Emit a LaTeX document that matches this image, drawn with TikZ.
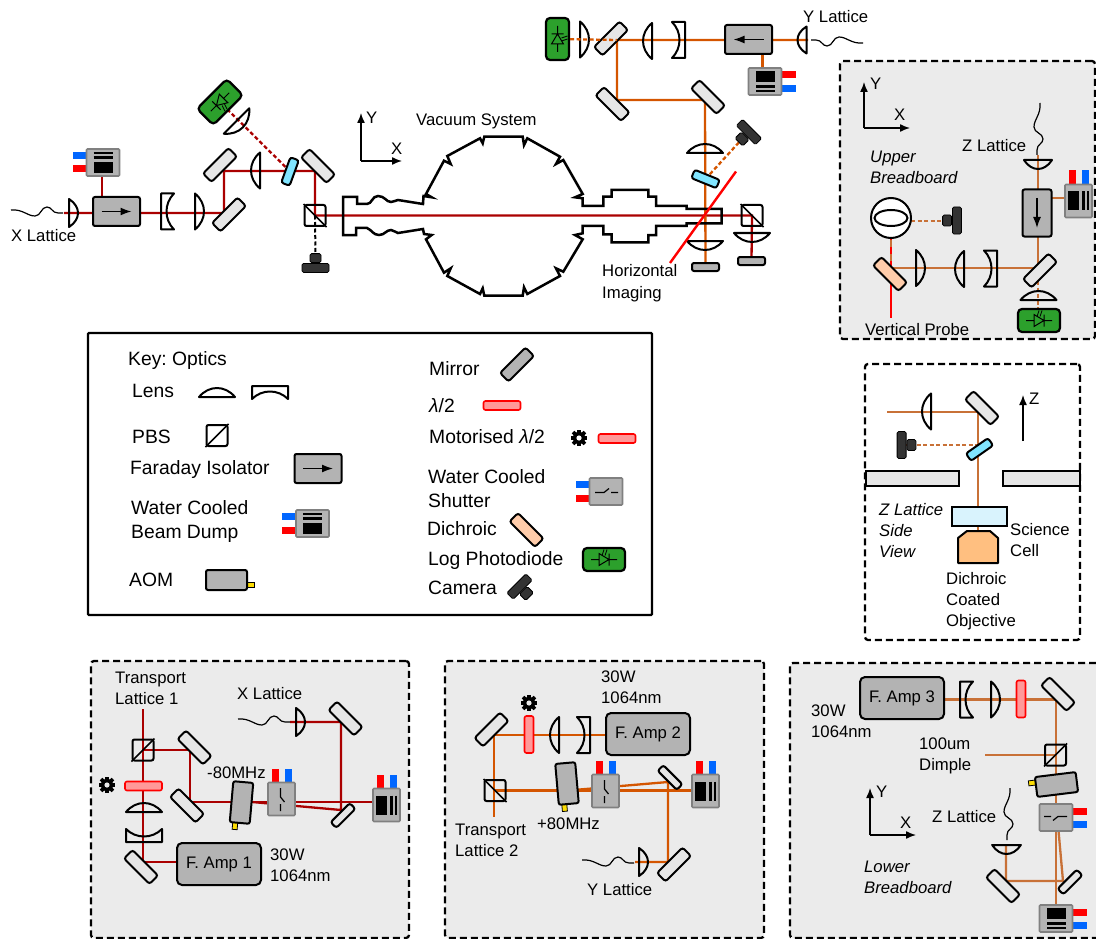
\documentclass[tikz,border=0pt]{standalone}
\usepackage{fontspec}
\setmainfont{Liberation Sans}
\usetikzlibrary{arrows.meta,shapes.geometric}
\frenchspacing

\definecolor{redbeam}{HTML}{AA0000}
\definecolor{orangebeam}{HTML}{D45500}
\definecolor{dimbeam}{HTML}{C87137}
\definecolor{panelgray}{HTML}{EBEBEB}
\definecolor{mirrorgray}{HTML}{E6E6E6}
\definecolor{bodygray}{HTML}{B3B3B3}
\definecolor{edgegray}{HTML}{808080}
\definecolor{tabblue}{HTML}{0066FF}
\definecolor{tabred}{HTML}{FF0000}
\definecolor{pdgreen}{HTML}{2CA02C}
\definecolor{dichblue}{HTML}{80E5FF}
\definecolor{peach}{HTML}{FFCCAA}
\definecolor{darkcam}{HTML}{333333}

\pgfdeclarelayer{panels}
\pgfdeclarelayer{beams}
\pgfsetlayers{panels,beams,main}

\tikzset{
  optic/.style={draw, line width=2pt, line join=round},
  lbl/.style={anchor=west, inner sep=0pt, align=left, text height=13pt, text depth=1pt},
  keylbl/.style={lbl, font=\fontsize{19.3}{24}\selectfont, text height=15pt},
  ital/.style={lbl, font=\fontsize{16.7}{21}\selectfont\itshape},
  panelbox/.style={rectangle, draw, fill=panelgray, line width=2.3pt, dash pattern=on 7pt off 4pt, rounded corners=3pt},
  mirror/.style={rectangle, draw, fill=mirrorgray, line width=2pt, rounded corners=2.5pt, minimum width=36pt, minimum height=12pt, inner sep=0pt},
  smallmirror/.style={mirror, minimum width=27pt, minimum height=8pt},
  dichroic/.style={mirror, fill=dichblue, minimum width=27pt, minimum height=9pt},
  pbs/.style={rectangle, draw, line width=2pt, rounded corners=2pt, minimum size=21pt, inner sep=0pt},
  waveplate/.style={rectangle, draw=tabred, fill=red!40, line width=1.6pt, rounded corners=2pt, minimum width=37pt, minimum height=9pt, inner sep=0pt},
  graybox/.style={rectangle, draw, fill=bodygray, line width=2pt, rounded corners=2pt, inner sep=0pt},
  ampbox/.style={graybox, rounded corners=5pt, minimum width=84pt, minimum height=42pt},
  block/.style={graybox, minimum width=27pt, minimum height=8pt},
  redbm/.style={redbeam, line width=2.3pt},
  orangebm/.style={orangebeam, line width=2.3pt},
  dimbm/.style={dimbeam, line width=2.3pt},
  dashbm/.style={dash pattern=on 4pt off 2.5pt},
  axisline/.style={line width=1.4pt, -{Latex[length=10pt,width=8pt]}},
  pics/convex/.style={code={
    \draw[optic] (-18,0) .. controls (-8,-12) and (8,-12) .. (18,0) -- cycle;
  }},
  pics/concave/.style={code={
    \draw[optic] (-18,-13) .. controls (-8,-3) and (8,-3) .. (18,-13) -- (18,0) -- (-18,0) -- cycle;
  }},
  pics/faraday/.style={code={
    \node (-box) [transform shape, graybox, minimum width=47pt, minimum height=29pt] at (0,0) {};
    \draw[line width=1.5pt, -{Latex[length=11pt,width=8pt]}] (-15,0) -- (15,0);
  }},
  pics/beamdump/.style={code={
    \fill[tabblue] (-30.5,-10.5) rectangle (-16,-3.5);
    \fill[tabred] (-30.5,3) rectangle (-16,10);
    \node (-box) [transform shape, rectangle, draw=edgegray, fill=bodygray, line width=1.6pt, rounded corners=1pt, minimum width=33pt, minimum height=27pt, inner sep=0pt] at (0,0) {};
    \fill (-9.5,-.5) rectangle (9.5,10.5);
    \draw[line width=2.2pt] (-9.5,-9.5) -- (9.5,-9.5) (-9.5,-5) -- (9.5,-5);
  }},
  pics/shutter/.style={code={
    \fill[tabblue] (-30.5,-10.5) rectangle (-16,-3.5);
    \fill[tabred] (-30.5,3) rectangle (-16,10);
    \node (-box) [transform shape, rectangle, draw=edgegray, fill=bodygray, line width=1.6pt, rounded corners=1pt, minimum width=33pt, minimum height=27pt, inner sep=0pt] at (0,0) {};
    \draw[line width=1.2pt] (-11,1) -- (-2,1) -- (3,-3) (5,1) -- (12,1);
  }},
  pics/aom/.style={code={
    \draw[fill=yellow!80!orange, line width=.8pt] (20,2) rectangle (27.5,7);
    \node (-box) [transform shape, graybox, minimum width=41pt, minimum height=20pt] at (0,0) {};
  }},
  pics/photodiode/.style={code={
    \node (-box) [transform shape, rectangle, draw, fill=pdgreen, line width=2.2pt, rounded corners=4pt, minimum width=42pt, minimum height=23pt, inner sep=0pt] at (0,0) {};
    \draw[line width=1pt] (-13,0) -- (-5,0) (-5,-6) -- (-5,6) -- (5,0) -- cycle (5,-6) -- (5,6) (5,0) -- (13,0);
    \draw[line width=.8pt] (-2,-4) -- (0,-10) (1,-4) -- (3,-10);
  }},
  pics/camera/.style={code={
    \node (-box) [transform shape, rectangle, draw, fill=darkcam, line width=.8pt, rounded corners=1.5pt, minimum width=27pt, minimum height=9pt, inner sep=0pt, anchor=north] at (0,0) {};
    \node (-stub) [transform shape, rectangle, draw, fill=darkcam, line width=.8pt, rounded corners=1.5pt, minimum width=11pt, minimum height=9pt, inner sep=0pt, anchor=south] at (0,0) {};
  }},
  pics/fibre/.style={code={
    \draw[line width=1.2pt] (0,0) .. controls (12,-1) and (16,6) .. (24,6) .. controls (30,6) and (30,-3) .. (36,-3) .. controls (41,-3) and (41,3) .. (47,3) -- (52,3);
  }},
  pics/cog/.style={code={
    \fill (0,0) circle (6.2);
    \foreach \a in {0,45,...,315} {\fill[rotate=\a] (-1.8,-8.4) rectangle (1.8,-4);}
    \fill[#1] (0,0) circle (2.6);
  }},
}

\begin{document}
\begin{tikzpicture}[x=1pt, y=-1pt, every node/.append style={font=\fontsize{16.7}{21}\selectfont}]
\useasboundingbox (0,0) rectangle (1096,939);

% panels
\begin{pgfonlayer}{panels}
\node (upper) [panelbox, minimum width=255pt, minimum height=278pt] at (967.5,200) {};
\node (side) [panelbox, fill=white, minimum width=215pt, minimum height=276pt] at (972.5,502) {};
\node (keybox) [rectangle, draw, line width=2.4pt, rounded corners=1pt, minimum width=564pt, minimum height=282pt] at (370,474) {};
\node (panela) [panelbox, minimum width=318pt, minimum height=277pt] at (250,799.5) {};
\node (panelb) [panelbox, minimum width=319pt, minimum height=277pt] at (604.5,799.5) {};
\node (panelc) [panelbox, minimum width=320pt, minimum height=275pt] at (950,800.5) {};
\end{pgfonlayer}

% x lattice input
\pic (fxa) at (11,210) {fibre};
\pic (lxa) [rotate=-90, xscale=.78] at (69,213) {convex};
\pic (fx) at (116.5,211.5) {faraday};
\pic (dx) at (103,162.5) {beamdump};
\pic (lxb) [rotate=-90] at (161,211.5) {concave};
\pic (lxc) [rotate=-90] at (195,211.5) {convex};
\node (mxa) [mirror, rotate=45] at (229,214.5) {};
\node (mxb) [mirror, rotate=45] at (220,165) {};
\pic (lxd) [rotate=90] at (260,170.5) {convex};
\node (dxa) [dichroic, rotate=70] at (290,171.5) {};
\node (mxc) [mirror, rotate=-45] at (318,166) {};
\pic (lxe) [rotate=-135] at (236.5,121) {convex};
\pic (pdx) [rotate=-135] at (220,102) {photodiode};
\node (pbsa) [pbs] at (315,215.5) {};
\draw[line width=1.5pt] (pbsa.north west) -- (pbsa.south east);
\pic (camx) at (315.5,263) {camera};

% y lattice input
\pic (pdy) [rotate=90, yscale=-1] at (557.5,39) {photodiode};
\pic (lya) [rotate=-90] at (580,39.5) {convex};
\node (mya) [mirror, rotate=45] at (611,38.5) {};
\pic (lyb) [rotate=90] at (652,41) {convex};
\pic (lyc) [rotate=90] at (685,40) {concave};
\pic (fy) [rotate=180] at (748.5,39.5) {faraday};
\pic (dy) [rotate=180] at (765,81.5) {beamdump};
\pic (lyd) [rotate=90, xscale=.75] at (806.5,40) {convex};
\pic (fya) [rotate=180] at (863,43) {fibre};
\node (myb) [mirror, rotate=-45] at (612.5,104) {};
\node (myc) [mirror, rotate=-45] at (708,97) {};
\pic (lye) at (705,153) {convex};
\node (dya) [dichroic, rotate=-22] at (705.5,179) {};
\pic (camy) [rotate=135] at (745.5,135.5) {camera};
\pic (lyf) [rotate=180] at (705,241) {convex};
\node (blka) [block] at (705.5,267) {};
\node (pbsb) [pbs] at (752,215.5) {};
\draw[line width=1.5pt] (pbsb.north west) -- (pbsb.south east);
\pic (lyg) [rotate=180] at (752,233) {convex};
\node (blkb) [block] at (751.5,261) {};

% vacuum system
\draw[line width=2.5pt, line join=miter] (357,204) -- (357,197) -- (343,197) -- (343,235) -- (356,235) -- (356,228) -- (367,228) .. controls (372,230) and (373,235) .. (379,235) .. controls (385,235) and (386,230) .. (391,230) .. controls (394,230) and (396,233) .. (398,233) -- (423,229) -- (424,234) -- (431.7,235) -- (426,239.3) -- (444,272.7) -- (450.7,268.3) -- (447.3,276) -- (480,294) -- (482.7,288.3) -- (484.3,295.7) -- (522.7,295.7) -- (524,287.3) -- (527.3,294) -- (560,276) -- (556,268.3) -- (563.3,271.7) -- (582.7,239.3) -- (575,235) -- (582.7,233.3) -- (582.7,226) -- (603.3,226) -- (603.3,234.3) -- (611.7,234.3) -- (611.7,242.3) -- (648.3,242.3) -- (648.3,235) -- (656,235) -- (656,226) -- (686.7,226) -- (686.7,223.3) -- (721.7,223.3) -- (721.7,209) -- (686.7,209) -- (686.7,206) -- (656,206) -- (656,196.7) -- (648.3,196.7) -- (648.3,190) -- (611.7,190) -- (611.7,196.7) -- (603.3,196.7) -- (603.3,206) -- (582.7,206) -- (582.7,198.3) -- (575,197.3) -- (582.7,194) -- (563.3,160) -- (556,164) -- (560,156.7) -- (527.3,138.3) -- (524,145) -- (522.7,136.7) -- (484.3,136.7) -- (482.7,143.3) -- (480,138.3) -- (447.3,156) -- (450.7,164) -- (444,160.7) -- (426,194) -- (431.7,197.3) -- (423.5,196) -- (423,204) -- (398,200) .. controls (396,200) and (394,202) .. (391,202) .. controls (386,202) and (385,196) .. (378,196) .. controls (372,196) and (372,204) .. (367,204) -- cycle;

% axes and labels in the main view
\coordinate (axa) at (361,161);
\draw[axisline] (axa) -- ++(0,-48);
\draw[axisline] (axa) -- ++(41,0);
\node (axay) [lbl] at (366,118) {Y};
\node (axax) [lbl] at (391,149) {X};
\node (txa) [lbl] at (11,235) {X Lattice};
\node (txb) [lbl] at (416,120) {Vacuum System};
\node (txc) [lbl] at (803,17) {Y Lattice};
\node (txd) [lbl] at (602,292) {Horizontal\\Imaging};

% upper breadboard
\coordinate (axb) at (864,128);
\draw[axisline] (axb) -- ++(0,-46);
\draw[axisline] (axb) -- ++(46,0);
\node (axby) [lbl] at (870,84) {Y};
\node (axbx) [lbl] at (894,115) {X};
\node (txe) [ital] at (870,178) {Upper\\Breadboard};
\node (txf) [lbl] at (962,146) {Z Lattice};
\pic (fza) [rotate=-90] at (1040,103) {fibre};
\pic (lua) [rotate=180, xscale=.78] at (1038,160) {convex};
\pic (fz) [rotate=-90] at (1037,213) {faraday};
\pic (dz) [rotate=-90] at (1078.5,201) {beamdump};
\node (mua) [mirror, rotate=45] at (1040,270.5) {};
\pic (lub) [rotate=0] at (1038.5,300) {convex};
\pic (pdz) at (1039,320.5) {photodiode};
\pic (luc) [rotate=90] at (997,268.5) {concave};
\pic (lud) [rotate=90] at (964,269) {convex};
\pic (lue) [rotate=-90] at (916,268) {convex};
\node (dua) [mirror, fill=peach, rotate=-45] at (890,274) {};
\node (atoms) [circle, draw, fill=white, line width=2pt, minimum size=40pt, inner sep=0pt] at (891,218) {};
\node (cloud) [ellipse, draw, fill=white, line width=2pt, minimum width=33pt, minimum height=16pt, inner sep=0pt] at (891,218) {};
\pic (camu) [rotate=90] at (952,220.5) {camera};
\node (txg) [lbl] at (865,329) {Vertical Probe};

% z lattice side view
\pic (lza) [rotate=90] at (931,411.5) {convex};
\node (mza) [mirror, rotate=-45] at (982,408) {};
\node (dza) [dichroic, rotate=35] at (979.5,449.5) {};
\pic (camz) [rotate=-90] at (906.5,445) {camera};
\node (bara) [rectangle, draw, fill=mirrorgray, line width=2pt, inner sep=0pt, minimum width=93pt, minimum height=15pt] at (912.5,478.5) {};
\node (barb) [rectangle, draw, fill=mirrorgray, line width=2pt, inner sep=0pt, minimum width=77pt, minimum height=15pt] at (1041.5,478.5) {};
\node (cell) [rectangle, draw, fill=cyan!15, line width=2pt, inner sep=0pt, minimum width=55pt, minimum height=19pt] at (979.5,516.5) {};
\draw[fill=orange!50!white, line width=2pt, line join=round] (958,563) -- (958,538) -- (967,531) -- (990,531) -- (998,538) -- (998,563) -- cycle;
\coordinate (axc) at (1023,441);
\draw[axisline] (axc) -- ++(0,-46);
\node (axcz) [lbl] at (1029,398) {Z};
\node (txh) [ital] at (879,551) {Z Lattice\\Side\\View};
\node (txi) [lbl] at (1010,550) {Science\\Cell};
\node (txj) [lbl] at (946,620) {Dichroic\\Coated\\Objective};

% key
\node (txk) [keylbl] at (128,358) {Key: Optics};
\node (txl) [keylbl] at (132,390) {Lens};
\pic (lkb) at (217,397) {convex};
\pic (lkc) [rotate=180] at (270,386) {concave};
\node (txm) [keylbl] at (132,436) {PBS};
\node (pbsk) [pbs] at (217,435.5) {};
\draw[line width=1.5pt] (pbsk.south west) -- (pbsk.north east);
\node (txn) [keylbl] at (130,467) {Faraday Isolator};
\pic (fk) at (318,468.5) {faraday};
\node (txo) [keylbl] at (131,531) {Water Cooled\\Beam Dump};
\pic (dk) at (312.5,523.5) {beamdump};
\node (txp) [keylbl] at (129,579) {AOM};
\pic (aomk) at (226.5,580) {aom};
\node (txq) [keylbl] at (429,368) {Mirror};
\node (mk) [mirror, fill=bodygray, rotate=45] at (517,364.5) {};
\node (txr) [keylbl] at (429,405) {\textit{λ}/2};
\node (wpa) [waveplate] at (502,405.5) {};
\node (txs) [keylbl] at (429,436) {Motorised \textit{λ}/2};
\pic (coga) at (579,438) {cog=white};
\node (wpb) [waveplate] at (617,438.5) {};
\node (txt) [keylbl] at (428,500) {Water Cooled\\Shutter};
\pic (sk) at (606,491.5) {shutter};
\node (txu) [keylbl] at (427,528) {Dichroic};
\node (dk2) [mirror, fill=peach, rotate=-45] at (526.5,530) {};
\node (txv) [keylbl] at (428,558) {Log Photodiode};
\pic (pdk) at (604,559.5) {photodiode};
\node (txw) [keylbl] at (428,587) {Camera};
\pic (camk) [rotate=-135] at (523,590) {camera};

% transport lattice 1
\node (txx) [lbl] at (115,698) {Transport\\Lattice 1};
\node (pbsc) [pbs] at (143,750) {};
\draw[line width=1.5pt] (pbsc.south west) -- (pbsc.north east);
\node (maa) [mirror, rotate=-45] at (194.5,747.5) {};
\node (mab) [mirror, rotate=-45] at (187,805.5) {};
\pic (cogb) at (107,785) {cog=panelgray};
\node (wpc) [waveplate] at (143.5,786) {};
\pic (laa) at (144,812) {convex};
\pic (lab) at (144,842) {concave};
\node (mac) [mirror, rotate=-45] at (141,867) {};
\node (ampa) [ampbox] at (219,864) {F. Amp 1};
\node (txy) [lbl] at (270,875) {30W\\1064nm};
\node (txz) [lbl] at (237,693) {X Lattice};
\pic (fxb) at (238,719) {fibre};
\pic (lac) [rotate=-90, xscale=.78] at (296,722) {convex};
\node (mad) [mirror, rotate=-45] at (345.5,718.5) {};
\node (txaa) [lbl] at (207,772) {-80MHz};
\pic (aoma) [rotate=-95] at (241.5,802.5) {aom};
\pic (sa) [rotate=-90] at (281.5,799) {shutter};
\pic (da) [rotate=-90] at (386.5,805) {beamdump};
\node (mae) [smallmirror, rotate=45] at (343,815.5) {};

% transport lattice 2
\node (txab) [lbl] at (601,697) {30W\\1064nm};
\node (mba) [mirror, rotate=45] at (491.5,729.5) {};
\pic (cogc) at (529,703) {cog=panelgray};
\node (wpd) [waveplate, rotate=90] at (529,734.5) {};
\pic (lba) [rotate=90] at (559,735) {convex};
\pic (lbb) [rotate=90] at (590,735) {concave};
\node (ampb) [ampbox] at (648,734) {F. Amp 2};
\node (pbsd) [pbs] at (495,790.5) {};
\draw[line width=1.5pt] (pbsd.north west) -- (pbsd.south east);
\pic (aomb) [rotate=-85] at (567,783.5) {aom};
\node (txac) [lbl] at (537,823) {+80MHz};
\pic (sb) [rotate=-90] at (605.5,791) {shutter};
\node (mbb) [smallmirror, rotate=-45] at (670,777.5) {};
\pic (db) [rotate=-90] at (705.5,791) {beamdump};
\node (mbc) [mirror, rotate=45] at (674,864.5) {};
\pic (lbc) [rotate=-90, xscale=.78] at (639,862) {convex};
\pic (fyb) at (582,860) {fibre};
\node (txad) [lbl] at (587,889) {Y Lattice};
\node (txae) [lbl] at (455,850) {Transport\\Lattice 2};

% dimple and z lattice
\node (ampc) [ampbox] at (902,698) {F. Amp 3};
\pic (lca) [rotate=-90] at (960,699.5) {concave};
\pic (lcb) [rotate=-90] at (991,699.5) {convex};
\node (wpe) [waveplate, rotate=90] at (1021,699) {};
\node (mca) [mirror, rotate=-45] at (1058,694) {};
\node (txaf) [lbl] at (811,731) {30W\\1064nm};
\node (txag) [lbl] at (919,764) {100um\\Dimple};
\node (pbse) [pbs] at (1055.5,755) {};
\draw[line width=1.5pt] (pbse.south west) -- (pbse.north east);
\pic (aomc) [rotate=187] at (1056.5,784.5) {aom};
\pic (sc) [rotate=180] at (1056,817.5) {shutter};
\node (txah) [lbl] at (932,816) {Z Lattice};
\pic (fzb) [rotate=-90] at (1010,788) {fibre};
\pic (lcc) [rotate=180, xscale=.8] at (1006.5,845) {convex};
\node (mcb) [mirror, rotate=-45] at (1003,886) {};
\node (mcc) [smallmirror, rotate=45] at (1070,882) {};
\pic (dc) [rotate=180] at (1056,918.5) {beamdump};
\coordinate (axd) at (870,835);
\draw[axisline] (axd) -- ++(0,-47);
\draw[axisline] (axd) -- ++(46,0);
\node (axdy) [lbl] at (876,791) {Y};
\node (axdx) [lbl] at (900,822) {X};
\node (txai) [ital] at (864,887) {Lower\\Breadboard};

% beams
\coordinate (xin) at (64,213);
\coordinate (bxa) at (224,213);
\coordinate (bxb) at (224,171);
\coordinate (bxc) at (315,171);
\coordinate (stx) at (102,170);
\coordinate (yin) at (808,40);
\coordinate (bya) at (617,40);
\coordinate (byb) at (617,100);
\coordinate (byc) at (705,100);
\coordinate (sty) at (762.5,80);
\coordinate (zin) at (1038,155);
\coordinate (bua) at (1038,268);
\coordinate (bub) at (891,268);
\coordinate (buc) at (891,318);
\coordinate (bud) at (1038,310);
\coordinate (bue) at (911,221);
\coordinate (buf) at (945,221);
\coordinate (stz) at (1070,198);
\coordinate (bza) at (887,412);
\coordinate (bzb) at (978,412);
\coordinate (bzc) at (978,533);
\coordinate (bzd) at (897,445);
\coordinate (bze) at (978,445);
\coordinate (baa) at (143,709);
\coordinate (bab) at (143,862);
\coordinate (bac) at (190,750);
\coordinate (bad) at (190,802);
\coordinate (bae) at (380,802);
\coordinate (baf) at (290,722);
\coordinate (bag) at (341,722);
\coordinate (bah) at (341,810);
\coordinate (bai) at (252,802);
\coordinate (bba) at (494,735);
\coordinate (bbb) at (494,817);
\coordinate (bbc) at (700,790.5);
\coordinate (bbd) at (568,790.5);
\coordinate (bbe) at (668,782);
\coordinate (bbf) at (668,862);
\coordinate (bbg) at (635,862);
\coordinate (bca) at (1056,699.5);
\coordinate (bcb) at (1056,910);
\coordinate (bcc) at (985,755);
\coordinate (bcd) at (1058,825);
\coordinate (bce) at (1063,881);
\coordinate (bcf) at (1006,881);
\coordinate (bcg) at (1006,845);
\begin{pgfonlayer}{beams}
\draw[redbm] (xin) -- (bxa) -- (bxb) -- (bxc) -- (pbsa.center) -- (pbsb.center) -- (blkb.center);
\draw[redbm] (stx) -- (stx |- fx-box.center);
\draw[redbm, dashbm] (dxa.center) -- (pdx-box.center);
\draw[line width=2pt, dashbm] (pbsa.center) -- (camx-stub.center);
\draw[orangebm] (yin) -- (bya) -- (byb) -- (byc) -- (blka.center);
\draw[orangebm] (sty) -- (sty |- fy-box.center);
\draw[orangebm, dashbm] (dya.center) -- (camy-stub.center);
\draw[dimbm] (zin) -- (bua) -- (bub);
\draw[dimbm] (stz) -- (stz -| fz-box.center);
\draw[dimbm] (bub) -- (atoms.center);
\draw[tabred, line width=2.3pt, dash pattern=on 7pt off 7pt] (bub) -- (atoms.center);
\draw[tabred, line width=2.3pt] (bub) -- (buc);
\draw[dimbm, dashbm] (bua) -- (bud);
\draw[dimbeam, line width=1.2pt, dashbm] (bue) -- (buf);
\draw[dimbm] (bza) -- (bzb) -- (bzc);
\draw[dimbm, dashbm] (bzd) -- (bze);
\draw[redbm] (baa) -- (bab) -- (bab -| ampa.center);
\draw[redbm] (pbsc.center) -- (bac) -- (bad) -- (bae);
\draw[redbm] (baf) -- (bag) -- (bah) -- (bai);
\draw[orangebm] (bba -| ampb.center) -- (bba) -- (bbb);
\draw[orangebm] (pbsd.center) -- (bbc);
\draw[orangebm] (bbd) -- (bbe) -- (bbf) -- (bbg);
\draw[dimbm] (bca -| ampc.center) -- (bca) -- (bcb);
\draw[dimbm] (bcc) -- (pbse.center);
\draw[dimbm] (bcd) -- (bce) -- (bcf) -- (bcg);
\end{pgfonlayer}
\draw[orangebm, dashbm] (pdy-box) -- (bya);
\coordinate (imga) at (670,263);
\coordinate (imgb) at (736,171.5);
\draw[tabred, line width=2.4pt] (imga) -- (imgb);

\end{tikzpicture}
\end{document}
